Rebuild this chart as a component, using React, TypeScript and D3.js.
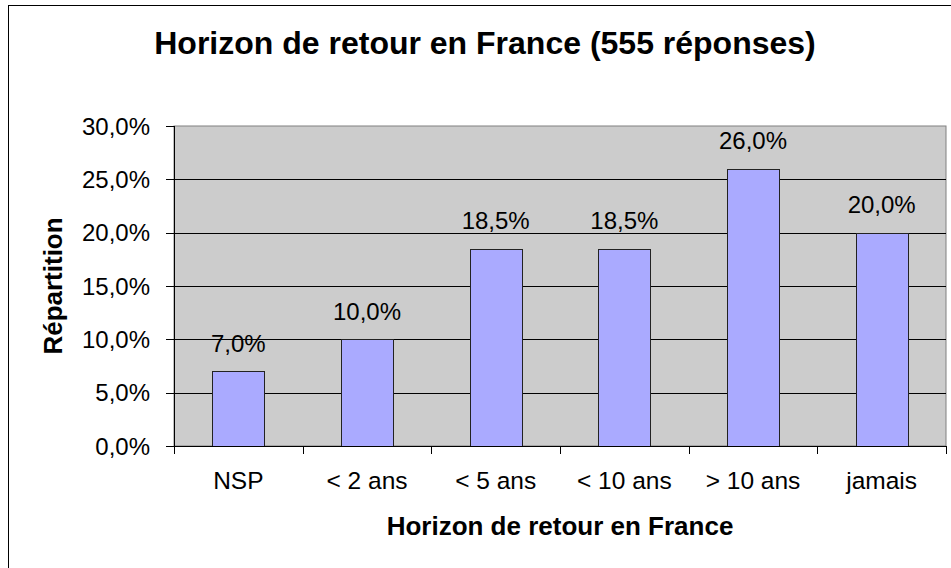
import React from "react";
import * as d3 from "d3";

const categories = ["NSP", "< 2 ans", "< 5 ans", "< 10 ans", "> 10 ans", "jamais"];
const values = [7.0, 10.0, 18.5, 18.5, 26.0, 20.0];
const yTicks = [0, 5, 10, 15, 20, 25, 30];
const titleText = "Horizon de retour en France (555 réponses)";
const xTitle = "Horizon de retour en France";
const yTitle = "Répartition";

const W = 951;
const H = 568;
const plot = { left: 174, right: 946, top: 126, bottom: 446 };
const FONT = "Liberation Sans, Arial, sans-serif";

const fmt = (v: number) => v.toFixed(1).replace(".", ",") + "%";

export default function App() {
  const x = d3
    .scaleBand<string>()
    .domain(categories)
    .range([plot.left, plot.right])
    .paddingInner(0.596)
    .paddingOuter(0.298);
  const step = x.step();
  const y = d3.scaleLinear().domain([0, 30]).range([plot.bottom, plot.top]);
  const boundaries = d3.range(categories.length + 1).map((i) => plot.left + i * step);

  return (
    <svg
      width={W}
      height={H}
      style={{ position: "absolute", left: 0, top: 0, background: "#fff" }}
      fontFamily={FONT}
    >
      {/* outer chart border */}
      <rect x={8.5} y={5.5} width={W + 20} height={H + 20} fill="#fff" stroke="#000" strokeWidth={1} />

      {/* plot area */}
      <rect
        x={plot.left}
        y={plot.top}
        width={plot.right - plot.left}
        height={plot.bottom - plot.top}
        fill="#CCCCCC"
        stroke="#808080"
        strokeWidth={1}
      />

      {/* gridlines */}
      {yTicks.filter((t) => t > 0 && t < 30).map((t) => (
        <line key={"g" + t} x1={plot.left} x2={plot.right} y1={Math.round(y(t)) + 0.5} y2={Math.round(y(t)) + 0.5} stroke="#000" strokeWidth={1} />
      ))}

      {/* bars */}
      {categories.map((c, i) => (
        <rect
          key={c}
          x={Math.round(x(c)!) + 0.5}
          y={Math.round(y(values[i])) + 0.5}
          width={Math.round(x.bandwidth())}
          height={Math.round(y(0)) - Math.round(y(values[i]))}
          fill="#AAAAFF"
          stroke="#222"
          strokeWidth={1}
        />
      ))}

      {/* value labels */}
      {categories.map((c, i) => (
        <text
          key={"v" + c}
          x={x(c)! + x.bandwidth() / 2}
          y={y(values[i]) - 19.5}
          textAnchor="middle"
          fontSize={24}
          fill="#000"
        >
          {fmt(values[i])}
        </text>
      ))}

      {/* y axis */}
      <line x1={plot.left + 0.5} x2={plot.left + 0.5} y1={plot.top} y2={plot.bottom} stroke="#000" />
      {yTicks.map((t) => (
        <g key={"t" + t}>
          <line x1={plot.left - 8} x2={plot.left} y1={Math.round(y(t)) + 0.5} y2={Math.round(y(t)) + 0.5} stroke="#000" />
          <text x={150} y={y(t) + 8.5} textAnchor="end" fontSize={24} fill="#000">
            {fmt(t)}
          </text>
        </g>
      ))}

      {/* x axis */}
      <line x1={plot.left} x2={plot.right} y1={plot.bottom + 0.5} y2={plot.bottom + 0.5} stroke="#000" />
      {boundaries.map((bx, i) => (
        <line key={"xb" + i} x1={Math.round(bx) + 0.5} x2={Math.round(bx) + 0.5} y1={plot.bottom} y2={plot.bottom + 8} stroke="#000" />
      ))}
      {categories.map((c) => (
        <text key={"c" + c} x={x(c)! + x.bandwidth() / 2} y={489} textAnchor="middle" fontSize={24.5} fill="#000">
          {c}
        </text>
      ))}

      {/* titles */}
      <text x={485} y={54} textAnchor="middle" fontSize={32} fontWeight="bold" fill="#000">
        {titleText}
      </text>
      <text x={(plot.left + plot.right) / 2} y={535} textAnchor="middle" fontSize={26} fontWeight="bold" fill="#000">
        {xTitle}
      </text>
      <text
        transform={`translate(62,${(plot.top + plot.bottom) / 2}) rotate(-90)`}
        textAnchor="middle"
        fontSize={26}
        fontWeight="bold"
        fill="#000"
      >
        {yTitle}
      </text>
    </svg>
  );
}
